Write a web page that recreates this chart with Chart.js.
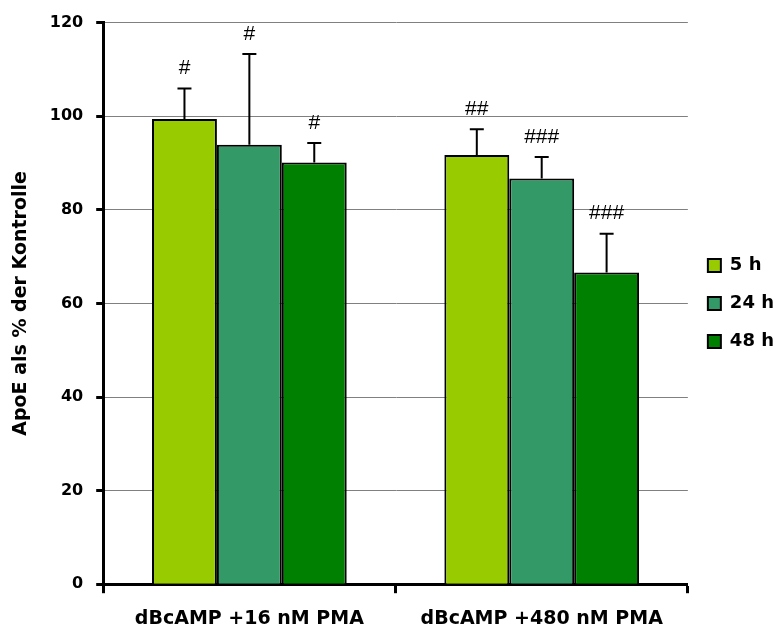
<!DOCTYPE html>
<html>
<head>
<meta charset="utf-8">
<script src="https://cdn.jsdelivr.net/npm/chart.js@4/dist/chart.umd.min.js"></script>
<style>
  html, body { margin: 0; padding: 0; background: #fff; }
  #wrap { width: 775px; height: 629px; }
</style>
</head>
<body>
<div id="wrap"><canvas id="myChart" width="775" height="629"></canvas></div>
<script>
const categories = ['dBcAMP +16 nM PMA', 'dBcAMP +480 nM PMA'];
const seriesNames = ['5 h', '24 h', '48 h'];
const seriesColors = ['#99CC00', '#339966', '#008000'];

const values5h = [99.4, 91.7];
const values24h = [93.9, 86.7];
const values48h = [90.1, 66.6];

// upper end of the error bars
const err5h = [105.9, 97.2];
const err24h = [113.3, 91.3];
const err48h = [94.3, 74.9];

// significance marks
const marks5h = ['#', '##'];
const marks24h = ['#', '###'];
const marks48h = ['#', '###'];

const yTicks = [0, 20, 40, 60, 80, 100, 120];

const BOLD = '"DejaVu Sans", sans-serif';
const PLAIN = '"Liberation Sans", Arial, sans-serif';

const allValues = [values5h, values24h, values48h];
const allErr = [err5h, err24h, err48h];
const allMarks = [marks5h, marks24h, marks48h];

const errorBars = {
  id: 'errorBars',
  afterDatasetsDraw(chart) {
    const ctx = chart.ctx;
    const y = chart.scales.y;
    ctx.save();
    chart.data.datasets.forEach((ds, i) => {
      const meta = chart.getDatasetMeta(i);
      meta.data.forEach((bar, j) => {
        const top = y.getPixelForValue(allErr[i][j]);
        ctx.strokeStyle = '#000';
        ctx.lineWidth = 2;
        ctx.beginPath();
        ctx.moveTo(bar.x, bar.y);
        ctx.lineTo(bar.x, top);
        ctx.moveTo(bar.x - 7, top);
        ctx.lineTo(bar.x + 7, top);
        ctx.stroke();
        ctx.fillStyle = '#000';
        ctx.font = '21px ' + PLAIN;
        ctx.textAlign = 'center';
        ctx.textBaseline = 'middle';
        ctx.fillText(allMarks[i][j], bar.x, top - 20);
      });
    });
    ctx.restore();
  }
};

function main() {
  const datasets = seriesNames.map((name, i) => ({
    label: name,
    data: allValues[i],
    backgroundColor: seriesColors[i],
    borderColor: '#000',
    borderWidth: 2,
    borderSkipped: 'bottom',
    categoryPercentage: 0.666,
    barPercentage: 1.0
  }));

  new Chart(document.getElementById('myChart'), {
    type: 'bar',
    data: { labels: categories, datasets: datasets },
    options: {
      responsive: false,
      animation: false,
      layout: { padding: { top: 5, right: -9, bottom: -15, left: 6 } },
      plugins: {
        legend: {
          position: 'right',
          fullSize: false,
          labels: {
            boxWidth: 13,
            boxHeight: 13,
            padding: 20,
            color: '#000',
            font: { family: BOLD, size: 18, weight: 'bold' }
          }
        },
        tooltip: { enabled: false }
      },
      scales: {
        x: {
          grid: {
            offset: true,
            drawOnChartArea: false,
            tickLength: 9,
            tickColor: '#000',
            tickWidth: 3
          },
          border: { color: '#000', width: 3 },
          ticks: {
            color: '#000',
            padding: 14,
            font: { family: BOLD, size: 19, weight: 'bold' }
          }
        },
        y: {
          min: 0,
          max: 120,
          afterBuildTicks(axis) { axis.ticks = yTicks.map(v => ({ value: v })); },
          grid: {
            color: ctx => ctx.tick && ctx.tick.value === 0 ? 'rgba(0,0,0,0)' : '#808080',
            lineWidth: 1,
            tickLength: 7,
            tickColor: '#000',
            tickWidth: 3
          },
          border: { color: '#000', width: 3 },
          ticks: {
            color: '#000',
            padding: 13,
            font: { family: BOLD, size: 16, weight: 'bold' }
          },
          title: {
            display: true,
            text: 'ApoE als % der Kontrolle',
            color: '#000',
            padding: { top: 4, bottom: 4 },
            font: { family: BOLD, size: 19, weight: 'bold' }
          }
        }
      }
    },
    plugins: [errorBars]
  });
}

document.addEventListener('DOMContentLoaded', function () {
  main();
});
</script>
</body>
</html>
